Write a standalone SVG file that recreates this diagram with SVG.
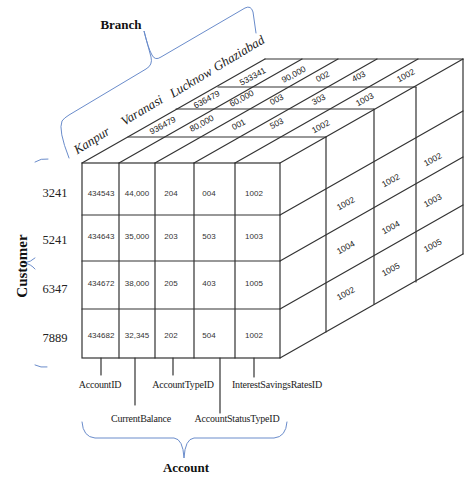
<svg xmlns="http://www.w3.org/2000/svg" width="471" height="479" viewBox="0 0 471 479">
<style>
.ln{stroke:#333;stroke-width:1.2;fill:none;stroke-linecap:round}
.br{stroke:#6a8ccb;stroke-width:1;fill:none;stroke-linecap:round;stroke-linejoin:round}
.cf{font-family:"Liberation Sans",Arial,sans-serif;font-size:8px;fill:#333;text-anchor:middle}
.ct{font-family:"Liberation Sans",Arial,sans-serif;font-size:8.5px;fill:#222;text-anchor:middle}
.rl{font-family:"Liberation Serif","Times New Roman",serif;font-size:12.5px;fill:#222;text-anchor:middle}
.bl{font-family:"Liberation Serif","Times New Roman",serif;font-size:13px;fill:#222;font-style:italic;text-anchor:middle}
.al{font-family:"Liberation Serif","Times New Roman",serif;font-size:10px;fill:#222;text-anchor:middle;letter-spacing:-0.2px}
.tt{font-family:"Liberation Serif","Times New Roman",serif;font-size:13px;font-weight:bold;fill:#111;text-anchor:middle}
</style>
<rect width="471" height="479" fill="#fff"/>
<g id="cube">
  <!-- front face -->
  <rect class="ln" x="82" y="163" width="198" height="195"/>
  <path class="ln" d="M119,163V358M155,163V358M194,163V358M235,163V358M82,215H280M82,261H280M82,309H280"/>
  <!-- top face -->
  <path class="ln" d="M128,137H326M176,109H374M218,87H416M265,59H463"/>
  <path class="ln" d="M82,163L265,59M119,163L302,59M155,163L338,59M194,163L377,59M235,163L418,59M280,163L463,59"/>
  <!-- right face -->
  <path class="ln" d="M326,137V332M374,109V304M416,87V282M463,59V254"/>
  <path class="ln" d="M280,215L463,111M280,261L463,157M280,309L463,205M280,358L463,254"/>
</g>
<g id="front-values">
  <text class="cf" x="101" y="196">434543</text><text class="cf" x="137" y="196">44,000</text><text class="cf" x="171" y="196">204</text><text class="cf" x="209" y="196">004</text><text class="cf" x="254" y="196">1002</text>
  <text class="cf" x="101" y="239">434643</text><text class="cf" x="137" y="239">35,000</text><text class="cf" x="171" y="239">203</text><text class="cf" x="209" y="239">503</text><text class="cf" x="254" y="239">1003</text>
  <text class="cf" x="101" y="286">434672</text><text class="cf" x="137" y="286">38,000</text><text class="cf" x="171" y="286">205</text><text class="cf" x="209" y="286">403</text><text class="cf" x="254" y="286">1005</text>
  <text class="cf" x="101" y="338">434682</text><text class="cf" x="137" y="338">32,345</text><text class="cf" x="171" y="338">202</text><text class="cf" x="209" y="338">504</text><text class="cf" x="254" y="338">1002</text>
</g>
<g id="top-values">
  <text class="ct" transform="translate(164,128) rotate(-28)">936479</text>
  <text class="ct" transform="translate(203,126) rotate(-28)">80,000</text>
  <text class="ct" transform="translate(240,127) rotate(-28)">001</text>
  <text class="ct" transform="translate(278,126) rotate(-28)">503</text>
  <text class="ct" transform="translate(322,129) rotate(-28)">1002</text>
  <text class="ct" transform="translate(208,102) rotate(-28)">636479</text>
  <text class="ct" transform="translate(243,101) rotate(-28)">60,000</text>
  <text class="ct" transform="translate(278,102) rotate(-28)">003</text>
  <text class="ct" transform="translate(320,102) rotate(-28)">303</text>
  <text class="ct" transform="translate(366,102) rotate(-28)">1003</text>
  <text class="ct" transform="translate(254,79) rotate(-28)">533341</text>
  <text class="ct" transform="translate(295,77) rotate(-28)">90,000</text>
  <text class="ct" transform="translate(324,79) rotate(-28)">002</text>
  <text class="ct" transform="translate(360,79) rotate(-28)">403</text>
  <text class="ct" transform="translate(407,78) rotate(-28)">1002</text>
</g>
<g id="side-values">
  <text class="ct" transform="translate(347,206) rotate(-28)">1002</text>
  <text class="ct" transform="translate(347,250) rotate(-28)">1004</text>
  <text class="ct" transform="translate(347,296) rotate(-28)">1002</text>
  <text class="ct" transform="translate(392,183) rotate(-28)">1002</text>
  <text class="ct" transform="translate(392,230) rotate(-28)">1004</text>
  <text class="ct" transform="translate(392,272) rotate(-28)">1005</text>
  <text class="ct" transform="translate(434,162) rotate(-28)">1002</text>
  <text class="ct" transform="translate(434,203) rotate(-28)">1003</text>
  <text class="ct" transform="translate(434,248) rotate(-28)">1005</text>
</g>
<g id="customer">
  <text class="rl" x="55" y="197">3241</text>
  <text class="rl" x="55" y="244">5241</text>
  <text class="rl" x="55" y="293">6347</text>
  <text class="rl" x="55" y="342">7889</text>
  <path class="br" d="M35,162Q41,158 48,159M35,258Q31,262 24,263Q31,264 35,269M35,365Q41,368 47,367"/>
  <text class="tt" font-size="15" transform="translate(27,266) rotate(-90)" style="font-size:15px">Customer</text>
</g>
<g id="branch">
  <path class="br" d="M69,158Q58,130 62,121Q64,118 69,115L146,69Q153,65 151,57L144,31Q148,48 152,55Q155,61 161,57L245,8Q251,5 253,12L256,33"/>
  <text class="tt" x="121" y="29">Branch</text>
  <text class="bl" transform="translate(94,144) rotate(-32)">Kanpur</text>
  <text class="bl" transform="translate(144,114) rotate(-31)">Varanasi</text>
  <text class="bl" transform="translate(193,86) rotate(-31)">Lucknow</text>
  <text class="bl" transform="translate(241,57) rotate(-31)">Ghaziabad</text>
</g>
<g id="connectors">
  <path class="ln" d="M101,358V375M135,358V405M173,358V375M220,358V413M254,358V377"/>
</g>
<g id="account">
  <text class="al" x="100" y="388">AccountID</text>
  <text class="al" x="141" y="422">CurrentBalance</text>
  <text class="al" x="183" y="388">AccountTypeID</text>
  <text class="al" x="237" y="422">AccountStatusTypeID</text>
  <text class="al" x="277" y="388">InterestSavingsRatesID</text>
  <path class="br" d="M82,422Q83,437 95,438L174,438Q183,439 184,458Q185,439 194,438L274,438Q286,437 287,422"/>
  <text class="tt" x="186" y="472">Account</text>
</g>
</svg>
